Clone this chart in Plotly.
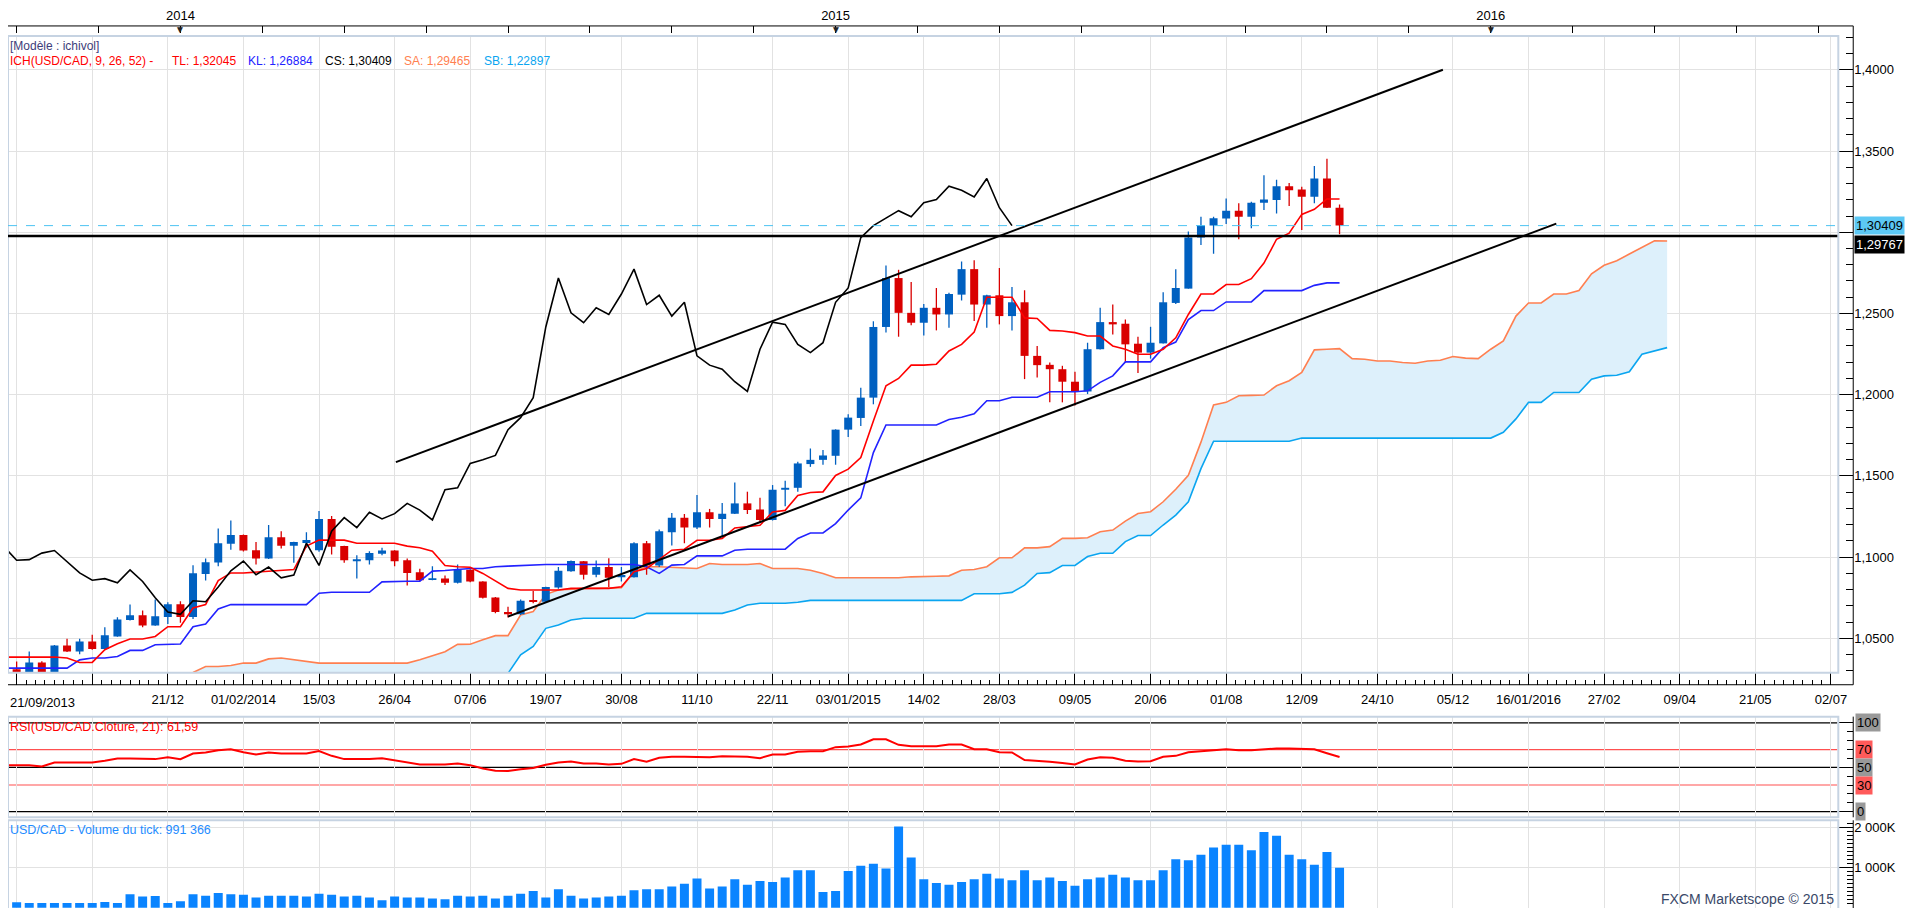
import pandas as pd
import plotly.graph_objects as go

# USD/CAD weekly candles, week of 21/09/2013 -> week of 03/10/2015
open_ = [1.0317, 1.0310, 1.0292, 1.0352, 1.0292, 1.0457, 1.0420, 1.0481, 1.0434, 1.0512,
         1.0613, 1.0642, 1.0580, 1.0632, 1.0710, 1.0632, 1.0897, 1.0967, 1.1082, 1.1136,
         1.1043, 1.0992, 1.1123, 1.1070, 1.1088, 1.1043, 1.1235, 1.1068, 1.0978, 1.0981,
         1.1021, 1.1041, 1.0981, 1.0907, 1.0862, 1.0868, 1.0842, 1.0922, 1.0850, 1.0752,
         1.0663, 1.0648, 1.0735, 1.0726, 1.0814, 1.0914, 1.0975, 1.0892, 1.0939, 1.0877,
         1.0877, 1.1086, 1.0949, 1.1153, 1.1243, 1.1182, 1.1276, 1.1235, 1.1268, 1.1331,
         1.1294, 1.1229, 1.1415, 1.1427, 1.1573, 1.1599, 1.1624, 1.1785, 1.1857, 1.1982,
         1.2417, 1.2718, 1.2504, 1.2443, 1.2535, 1.2494, 1.2616, 1.2773, 1.2555, 1.2612,
         1.2484, 1.2569, 1.2239, 1.2184, 1.2157, 1.2080, 1.2020, 1.2280, 1.2447, 1.2437,
         1.2314, 1.2259, 1.2316, 1.2565, 1.2653, 1.2967, 1.3041, 1.3084, 1.3133, 1.3096,
         1.3182, 1.3198, 1.3284, 1.3263, 1.3218, 1.3331, 1.3151]
high = [1.0342, 1.0358, 1.0420, 1.0360, 1.0460, 1.0498, 1.0498, 1.0523, 1.0568, 1.0630,
        1.0708, 1.0671, 1.0739, 1.0722, 1.0728, 1.0951, 1.0992, 1.1177, 1.1226, 1.1140,
        1.1093, 1.1198, 1.1160, 1.1095, 1.1154, 1.1284, 1.1253, 1.1070, 1.1012, 1.1037,
        1.1058, 1.1043, 1.0992, 1.0928, 1.0944, 1.0887, 1.0955, 1.0925, 1.0852, 1.0755,
        1.0695, 1.0740, 1.0791, 1.0818, 1.0939, 1.0980, 1.0977, 1.0980, 1.0994, 1.0939,
        1.1092, 1.1100, 1.1170, 1.1272, 1.1266, 1.1382, 1.1297, 1.1333, 1.1460, 1.1403,
        1.1366, 1.1444, 1.1470, 1.1587, 1.1669, 1.1660, 1.1787, 1.1879, 1.2043, 1.2452,
        1.2796, 1.2769, 1.2694, 1.2559, 1.2657, 1.2627, 1.2820, 1.2827, 1.2616, 1.2780,
        1.2663, 1.2643, 1.2300, 1.2198, 1.2178, 1.2141, 1.2320, 1.2535, 1.2555, 1.2463,
        1.2357, 1.2418, 1.2631, 1.2773, 1.3004, 1.3096, 1.3096, 1.3208, 1.3178, 1.3188,
        1.3351, 1.3324, 1.3304, 1.3280, 1.3408, 1.3453, 1.3171]
low = [1.0270, 1.0275, 1.0275, 1.0275, 1.0280, 1.0416, 1.0403, 1.0430, 1.0430, 1.0510,
       1.0610, 1.0568, 1.0578, 1.0588, 1.0597, 1.0619, 1.0856, 1.0944, 1.1045, 1.1035,
       1.0955, 1.0988, 1.1053, 1.0965, 1.1058, 1.1033, 1.1016, 1.0965, 1.0868, 1.0955,
       1.1012, 1.0944, 1.0825, 1.0852, 1.0858, 1.0829, 1.0838, 1.0845, 1.0745, 1.0655,
       1.0628, 1.0644, 1.0716, 1.0722, 1.0806, 1.0910, 1.0863, 1.0877, 1.0816, 1.0850,
       1.0875, 1.0892, 1.0939, 1.1072, 1.1086, 1.1174, 1.1182, 1.1123, 1.1266, 1.1266,
       1.1215, 1.1225, 1.1313, 1.1403, 1.1556, 1.1569, 1.1569, 1.1740, 1.1808, 1.1941,
       1.2383, 1.2357, 1.2427, 1.2365, 1.2396, 1.2412, 1.2580, 1.2453, 1.2412, 1.2433,
       1.2396, 1.2096, 1.2106, 1.1953, 1.1953, 1.1933, 1.2004, 1.2278, 1.2371, 1.2198,
       1.2133, 1.2222, 1.2316, 1.2559, 1.2653, 1.2922, 1.2867, 1.3051, 1.2957, 1.3024,
       1.3137, 1.3116, 1.3161, 1.3014, 1.3178, 1.3149, 1.2988]
close = [1.0300, 1.0292, 1.0352, 1.0292, 1.0457, 1.0420, 1.0481, 1.0434, 1.0519, 1.0617,
         1.0642, 1.0580, 1.0636, 1.0710, 1.0632, 1.0901, 1.0969, 1.1086, 1.1136, 1.1041,
         1.0992, 1.1123, 1.1070, 1.1093, 1.1105, 1.1235, 1.1064, 1.0981, 1.0985, 1.1025,
         1.1041, 1.0975, 1.0903, 1.0858, 1.0868, 1.0842, 1.0922, 1.0850, 1.0750, 1.0663,
         1.0648, 1.0732, 1.0726, 1.0816, 1.0916, 1.0976, 1.0892, 1.0939, 1.0873, 1.0890,
         1.1086, 1.0949, 1.1160, 1.1243, 1.1182, 1.1276, 1.1235, 1.1268, 1.1331, 1.1290,
         1.1229, 1.1415, 1.1427, 1.1577, 1.1599, 1.1626, 1.1785, 1.1859, 1.1982, 1.2417,
         1.2718, 1.2504, 1.2443, 1.2535, 1.2494, 1.2620, 1.2773, 1.2555, 1.2612, 1.2484,
         1.2569, 1.2239, 1.2182, 1.2157, 1.2080, 1.2020, 1.2280, 1.2447, 1.2433, 1.2310,
         1.2259, 1.2320, 1.2569, 1.2657, 1.2967, 1.3041, 1.3086, 1.3133, 1.3096, 1.3182,
         1.3202, 1.3284, 1.3259, 1.3218, 1.3331, 1.3151, 1.30409]

# Ichimoku (9, 26, 52)
tenkan = [1.0385, 1.0385, 1.0385, 1.0385, 1.0385, 1.0379, 1.0352, 1.0352, 1.0430, 1.0467,
          1.0496, 1.0496, 1.0512, 1.0572, 1.0572, 1.0687, 1.0708, 1.0856, 1.0903, 1.0903,
          1.0909, 1.0914, 1.0918, 1.0924, 1.1068, 1.1105, 1.1105, 1.1105, 1.1086, 1.1086,
          1.1086, 1.1086, 1.1068, 1.1058, 1.1037, 1.0949, 1.0941, 1.0938, 1.0900, 1.0853,
          1.0808, 1.0798, 1.0798, 1.0798, 1.0798, 1.0808, 1.0808, 1.0808, 1.0808, 1.0818,
          1.0910, 1.0930, 1.0988, 1.1043, 1.1049, 1.1104, 1.1104, 1.1115, 1.1180, 1.1186,
          1.1196, 1.1278, 1.1288, 1.1380, 1.1398, 1.1402, 1.1503, 1.1542, 1.1613, 1.1838,
          1.2055, 1.2100, 1.2182, 1.2182, 1.2188, 1.2269, 1.2310, 1.2386, 1.2600, 1.2600,
          1.2600, 1.2473, 1.2469, 1.2396, 1.2392, 1.2382, 1.2361, 1.2361, 1.2300, 1.2280,
          1.2249, 1.2249, 1.2280, 1.2350, 1.2494, 1.2620, 1.2620, 1.2678, 1.2678, 1.2714,
          1.2810, 1.2957, 1.2994, 1.3110, 1.3141, 1.3205, 1.32045]
kijun = [1.0317, 1.0317, 1.0317, 1.0317, 1.0317, 1.0317, 1.0368, 1.0379, 1.0379, 1.0389,
         1.0426, 1.0426, 1.0461, 1.0465, 1.0465, 1.0572, 1.0588, 1.0681, 1.0708, 1.0708,
         1.0708, 1.0708, 1.0708, 1.0708, 1.0708, 1.0778, 1.0784, 1.0784, 1.0784, 1.0784,
         1.0848, 1.0852, 1.0852, 1.0852, 1.0914, 1.0918, 1.0926, 1.0930, 1.0930, 1.0941,
         1.0945, 1.0949, 1.0955, 1.0955, 1.0955, 1.0955, 1.0955, 1.0955, 1.0955, 1.0955,
         1.0955, 1.0941, 1.0900, 1.0951, 1.0955, 1.1008, 1.1008, 1.1008, 1.1043, 1.1049,
         1.1049, 1.1049, 1.1049, 1.1115, 1.1149, 1.1149, 1.1207, 1.1290, 1.1365, 1.1644,
         1.1814, 1.1814, 1.1814, 1.1814, 1.1814, 1.1847, 1.1861, 1.1882, 1.1963, 1.1963,
         1.1984, 1.1984, 1.1984, 1.2018, 1.2018, 1.2018, 1.2024, 1.2076, 1.2116, 1.2202,
         1.2202, 1.2202, 1.2290, 1.2324, 1.2463, 1.2518, 1.2518, 1.2571, 1.2571, 1.2571,
         1.2641, 1.2641, 1.2641, 1.2641, 1.2673, 1.26884, 1.26884]
# senkou spans, plotted from week 11 to week 132 (already shifted 26 weeks ahead)
cloud_start = 11
senkou_a = [1.0262, 1.0278, 1.0282, 1.0284, 1.0290, 1.0327, 1.0327, 1.0333, 1.0348, 1.0348,
            1.0374, 1.0379, 1.0368, 1.0358, 1.0348, 1.0348, 1.0348, 1.0348, 1.0348, 1.0348,
            1.0348, 1.0348, 1.0368, 1.0395, 1.0418, 1.0463, 1.0464, 1.0491, 1.0517, 1.0517,
            1.0644, 1.0665, 1.0771, 1.0798, 1.0804, 1.0808, 1.0808, 1.0812, 1.0812, 1.0910,
            1.0941, 1.0941, 1.0937, 1.0930, 1.0930, 1.0961, 1.0955, 1.0955, 1.0955, 1.0961,
            1.0930, 1.0930, 1.0930, 1.0920, 1.0900, 1.0873, 1.0873, 1.0873, 1.0873, 1.0873,
            1.0873, 1.0879, 1.0883, 1.0883, 1.0885, 1.0920, 1.0924, 1.0941, 1.0996, 1.0996,
            1.1057, 1.1057, 1.1065, 1.1116, 1.1116, 1.1120, 1.1157, 1.1167, 1.1222, 1.1269,
            1.1280, 1.1341, 1.1418, 1.1504, 1.1708, 1.1937, 1.1953, 1.1994, 1.1996, 1.1998,
            1.2055, 1.2086, 1.2137, 1.2276, 1.2280, 1.2284, 1.2222, 1.2218, 1.2208, 1.2208,
            1.2198, 1.2194, 1.2208, 1.2212, 1.2235, 1.2225, 1.2222, 1.2280, 1.2331, 1.2484,
            1.2565, 1.2565, 1.2620, 1.2620, 1.2641, 1.2744, 1.2797, 1.2825, 1.2866, 1.2905,
            1.2947, 1.29465]
senkou_b = [1.0150, 1.0150, 1.0150, 1.0150, 1.0150, 1.0150, 1.0150, 1.0150, 1.0150, 1.0150,
            1.0150, 1.0150, 1.0150, 1.0150, 1.0150, 1.0150, 1.0150, 1.0150, 1.0150, 1.0150,
            1.0150, 1.0150, 1.0150, 1.0150, 1.0150, 1.0150, 1.0150, 1.0150, 1.0200, 1.0285,
            1.0399, 1.0450, 1.0562, 1.0583, 1.0613, 1.0624, 1.0624, 1.0624, 1.0624, 1.0624,
            1.0654, 1.0654, 1.0654, 1.0654, 1.0654, 1.0654, 1.0654, 1.0675, 1.0706, 1.0716,
            1.0716, 1.0716, 1.0722, 1.0734, 1.0734, 1.0734, 1.0734, 1.0734, 1.0734, 1.0734,
            1.0734, 1.0734, 1.0734, 1.0734, 1.0734, 1.0734, 1.0775, 1.0775, 1.0775, 1.0783,
            1.0828, 1.0900, 1.0905, 1.0949, 1.0949, 1.1004, 1.1024, 1.1024, 1.1096, 1.1133,
            1.1133, 1.1198, 1.1259, 1.1341, 1.1545, 1.1714, 1.1714, 1.1714, 1.1714, 1.1714,
            1.1714, 1.1714, 1.1733, 1.1733, 1.1733, 1.1733, 1.1733, 1.1733, 1.1733, 1.1733,
            1.1733, 1.1733, 1.1733, 1.1733, 1.1733, 1.1733, 1.1733, 1.1733, 1.1769, 1.1851,
            1.1953, 1.1953, 1.2014, 1.2014, 1.2014, 1.2096, 1.2116, 1.2120, 1.2141, 1.2249,
            1.2269, 1.22897]

rsi = [52.4, 52.4, 52.4, 50.9, 55.4, 55.4, 55.4, 55.4, 57.3, 59.9,
       59.9, 59.2, 59.2, 61.4, 59.2, 65.5, 66.7, 69.3, 70.4, 67.0,
       64.4, 66.7, 65.5, 65.5, 65.5, 68.2, 62.9, 59.2, 59.2, 59.2,
       60.3, 57.7, 55.4, 53.2, 53.2, 53.2, 54.3, 52.4, 48.7, 46.1,
       45.7, 47.9, 49.1, 52.8, 55.4, 56.6, 54.3, 54.3, 53.2, 53.9,
       59.2, 56.2, 60.7, 61.8, 61.8, 61.6, 61.4, 62.5, 62.5, 61.8,
       60.3, 64.4, 64.4, 67.4, 68.2, 68.2, 72.7, 73.4, 75.7, 81.6,
       81.6, 75.3, 73.8, 73.8, 73.8, 75.7, 75.7, 70.4, 70.4, 67.0,
       66.7, 58.1, 57.3, 56.2, 54.7, 53.2, 58.8, 61.4, 60.7, 57.3,
       56.6, 56.9, 61.8, 62.9, 67.0, 68.5, 69.3, 70.4, 69.3, 69.3,
       70.4, 71.2, 71.2, 70.4, 70.4, 65.9, 61.59]
volume = [135000, 135000, 120000, 120000, 120000, 120000, 120000, 120000, 143000, 120000,
          338000, 278000, 293000, 120000, 165000, 338000, 300000, 368000, 338000, 323000,
          256000, 300000, 300000, 300000, 278000, 346000, 323000, 278000, 300000, 256000,
          188000, 278000, 256000, 256000, 233000, 210000, 300000, 278000, 300000, 233000,
          300000, 346000, 414000, 256000, 459000, 300000, 233000, 256000, 278000, 300000,
          436000, 459000, 459000, 526000, 594000, 729000, 481000, 526000, 707000, 571000,
          662000, 639000, 752000, 932000, 932000, 391000, 414000, 910000, 1045000, 1090000,
          977000, 2015000, 1248000, 707000, 617000, 571000, 639000, 707000, 842000, 729000,
          684000, 932000, 684000, 752000, 662000, 549000, 707000, 752000, 820000, 752000,
          684000, 684000, 932000, 1203000, 1180000, 1316000, 1496000, 1564000, 1564000, 1429000,
          1880000, 1789000, 1316000, 1203000, 1068000, 1383000, 991366]

# drawn channel and support level
trend_up_x = ["2014-04-26 17:00", "2015-11-29 10:00"]
trend_up_y = [1.1585, 1.4000]
trend_lo_x = ["2014-06-28 00:00", "2016-01-31 10:00"]
trend_lo_y = [1.0634, 1.3053]
support_level = 1.29767

price_ticks = [1.05, 1.10, 1.15, 1.20, 1.25, 1.30, 1.35, 1.40]
price_text = ["1,0500", "1,1000", "1,1500", "1,2000", "1,2500", "1,3000", "1,3500", "1,4000"]
date_labels = ["", "", "21/12", "01/02/2014", "15/03", "26/04", "07/06", "19/07", "30/08",
               "11/10", "22/11", "03/01/2015", "14/02", "28/03", "09/05", "20/06", "01/08",
               "12/09", "24/10", "05/12", "16/01/2016", "27/02", "09/04", "21/05", "02/07"]
first_date_label = "21/09/2013"
vol_ticks = [0, 1000000, 2000000]
vol_text = ["0", "1 000K", "2 000K"]
rsi_levels = [100, 70, 50, 30, 0]

# ---------------------------------------------------------------
# the page puts the figure 8px in from the window edge, so the
# screen positions below are measured on the window and shifted
OFF = 8
W, H = 1919 - 2 * OFF, 916 - 2 * OFF
def px(x):
    return (x - OFF) / W
def py(y):
    return 1 - (y - OFF) / H

FONT = "Liberation Sans, Arial, sans-serif"
UP, DOWN = "#0060C0", "#D90000"
GRID = "#E2E2E2"
FRAME = "#C6D3E2"

n = len(close)
t0 = pd.Timestamp("2013-09-21")
weeks = [t0 + pd.Timedelta(weeks=i) for i in range(n + 26)]
xrange_ = [t0 + pd.Timedelta(days=2.2), t0 + pd.Timedelta(days=1019.1)]
grid_dates = [t0 + pd.Timedelta(weeks=k) for k in range(1, 146, 6)]
top_ticks = [t0 + pd.Timedelta(weeks=14 + 6.5 * k) for k in range(-2, 21)]
year_weeks = [w for w in weeks if (w + pd.Timedelta(days=6)).year != w.year]
top_text = []
for t in top_ticks:
    hit = [w for w in year_weeks if abs((w - t).days) < 1]
    top_text.append(str((hit[0] + pd.Timedelta(days=6)).year) if hit else "")

# axis labels that sit under the last-price / support boxes are covered, as on screen
price_shown = ["" if min(abs(t - close[-1]), abs(t - support_level)) < 0.01 else s
               for t, s in zip(price_ticks, price_text)]


def fmt(v, d=5):
    return f"{v:.{d}f}".replace(".", ",")


def segs(idx, a, b, min_h=0.0):
    xs, ys = [], []
    for i in idx:
        lo_, hi_ = min(a[i], b[i]), max(a[i], b[i])
        if hi_ - lo_ < min_h:
            mid = (lo_ + hi_) / 2
            lo_, hi_ = mid - min_h / 2, mid + min_h / 2
        xs += [weeks[i], weeks[i], None]
        ys += [lo_, hi_, None]
    return xs, ys


up_idx = [i for i in range(n) if close[i] >= open_[i]]
dn_idx = [i for i in range(n) if close[i] < open_[i]]

fig = go.Figure()

# cloud
cx = weeks[cloud_start:cloud_start + len(senkou_a)]
fig.add_trace(go.Scatter(x=cx, y=senkou_b, mode="lines", line=dict(color="#0AA5F0", width=1.6),
                         hoverinfo="skip"))
fig.add_trace(go.Scatter(x=cx, y=senkou_a, mode="lines", line=dict(color="#FF7F50", width=1.6),
                         fill="tonexty", fillcolor="#DDF0FB", hoverinfo="skip"))

# candles
for idx, col in [(up_idx, UP), (dn_idx, DOWN)]:
    wx, wy = segs(idx, low, high)
    fig.add_trace(go.Scatter(x=wx, y=wy, mode="lines", line=dict(color=col, width=1.3),
                             hoverinfo="skip"))
    bx, by = segs(idx, open_, close, min_h=0.0012)
    fig.add_trace(go.Scatter(x=bx, y=by, mode="lines", line=dict(color=col, width=8),
                             hoverinfo="skip"))

fig.add_trace(go.Scatter(x=weeks[:n], y=kijun, mode="lines", line=dict(color="#2222FF", width=1.6),
                         hoverinfo="skip"))
fig.add_trace(go.Scatter(x=weeks[:n], y=tenkan, mode="lines", line=dict(color="#FF0000", width=1.6),
                         hoverinfo="skip"))
fig.add_trace(go.Scatter(x=weeks[:n - 26], y=close[26:], mode="lines",
                         line=dict(color="black", width=1.6), hoverinfo="skip"))
fig.add_trace(go.Scatter(x=trend_up_x, y=trend_up_y, mode="lines", line=dict(color="black", width=2),
                         hoverinfo="skip"))
fig.add_trace(go.Scatter(x=trend_lo_x, y=trend_lo_y, mode="lines", line=dict(color="black", width=2),
                         hoverinfo="skip"))

# RSI
fig.add_trace(go.Scatter(x=weeks[:n], y=rsi, mode="lines", line=dict(color="#FF0000", width=2),
                         xaxis="x2", yaxis="y2", hoverinfo="skip"))
# tick volume
fig.add_trace(go.Bar(x=weeks[:n], y=volume, marker=dict(color="#0A84FF", line=dict(width=0)),
                     width=5 * 86400000, xaxis="x3", yaxis="y3", hoverinfo="skip"))
# carriers for the date strip and the year strip
fig.add_trace(go.Scatter(x=[weeks[5]], y=[0.5], mode="markers", marker=dict(opacity=0),
                         xaxis="x4", yaxis="y4", hoverinfo="skip"))
fig.add_trace(go.Scatter(x=[weeks[5]], y=[0.5], mode="markers", marker=dict(opacity=0),
                         xaxis="x5", yaxis="y5", hoverinfo="skip"))

XD = px(1847)
AX = px(1862)
xbase = dict(range=xrange_, domain=[0, XD], type="date", tickmode="array", tickvals=grid_dates,
             showgrid=True, gridcolor=GRID, gridwidth=1, showticklabels=False, ticks="",
             zeroline=False, showline=False, fixedrange=True)
yside = dict(side="right", anchor="free", position=AX, ticks="inside", tickcolor="black",
             tickwidth=1, zeroline=False, showline=False, fixedrange=True)

fig.update_layout(
    xaxis=dict(**xbase, anchor="y", rangeslider=dict(visible=False)),
    xaxis2=dict(**xbase, anchor="y2", matches="x"),
    xaxis3=dict(**xbase, anchor="y3", matches="x"),
    xaxis4=dict(range=xrange_, domain=[0, XD], type="date", anchor="y4", matches="x",
                tickmode="array", tickvals=grid_dates, ticktext=date_labels, ticks="inside",
                ticklen=12, tickcolor="black", showgrid=False, zeroline=False, showline=False,
                ticklabelstandoff=5, tickfont=dict(size=13, color="black"),
                minor=dict(tickmode="linear", tick0=grid_dates[0], dtick=6 * 7 * 86400000 / 8,
                           ticks="inside", ticklen=5, tickcolor="black", showgrid=False)),
    xaxis5=dict(range=xrange_, domain=[0, XD], type="date", anchor="y5", matches="x", side="top",
                tickmode="array", tickvals=top_ticks, ticktext=top_text, ticks="inside",
                ticklen=7, tickcolor="black", showgrid=False, zeroline=False, showline=False,
                ticklabelstandoff=2, tickfont=dict(size=13, color="black")),
    yaxis=dict(**yside, domain=[py(672), py(33)], range=[1.02883, 1.42086], tickmode="array",
               tickvals=price_ticks, ticktext=price_shown, ticklen=15, showgrid=True,
               gridcolor=GRID, tickfont=dict(size=13, color="black"),
               minor=dict(tickmode="linear", tick0=1.0, dtick=0.01, ticks="inside", ticklen=7,
                          tickcolor="black", showgrid=False)),
    yaxis2=dict(**yside, domain=[py(817), py(716)], range=[-6.4, 107.1], tickmode="array",
                tickvals=[0, 50, 100], ticklen=14, showticklabels=False, showgrid=False,
                minor=dict(tickmode="linear", tick0=0, dtick=10, ticks="inside", ticklen=6,
                           tickcolor="black", showgrid=False)),
    yaxis3=dict(**yside, domain=[0, py(820)], range=[-5000, 2170000], tickmode="array",
                tickvals=vol_ticks, ticktext=vol_text, ticklen=14, showgrid=True, gridcolor=GRID,
                tickfont=dict(size=13, color="black"),
                minor=dict(tickmode="linear", tick0=0, dtick=100000, ticks="inside", ticklen=6,
                           tickcolor="black", showgrid=False)),
    yaxis4=dict(domain=[py(684), py(672)], range=[0, 1], visible=False, fixedrange=True),
    yaxis5=dict(domain=[py(33), py(23)], range=[0, 1], visible=False, fixedrange=True),
    plot_bgcolor="white",
    paper_bgcolor="white",
    margin=dict(l=0, r=0, t=0, b=0),
    showlegend=False,
    hovermode=False,
    font=dict(family=FONT, size=13, color="black"),
)

shapes = []
# panel frames
for y0, y1 in [(33, 672), (716, 817), (820, 909)]:
    shapes.append(dict(type="rect", xref="paper", yref="paper", x0=0, x1=px(1847), y0=py(y1), y1=py(y0),
                       line=dict(color=FRAME, width=2), layer="above"))
# axis lines
for x0, y0, x1, y1 in [(8, 23, 1862, 23), (1862, 23, 1862, 684), (8, 684, 1862, 684),
                       (1862, 716, 1862, 817), (1862, 820, 1862, 908)]:
    shapes.append(dict(type="line", xref="paper", yref="paper", x0=px(x0), x1=px(x1), y0=py(y0), y1=py(y1),
                       line=dict(color="black", width=1), layer="above"))
# last price and support level
shapes.append(dict(type="line", xref="paper", yref="y", x0=0, x1=px(1846), y0=close[-1], y1=close[-1],
                   line=dict(color="#4CC3F2", width=1, dash="dash"), layer="above"))
shapes.append(dict(type="line", xref="paper", yref="y", x0=0, x1=px(1846), y0=support_level,
                   y1=support_level, line=dict(color="black", width=2.5), layer="above"))
# RSI levels
for lv in rsi_levels:
    col = "#FF5050" if lv in (30, 70) else "black"
    shapes.append(dict(type="line", xref="paper", yref="y2", x0=0, x1=px(1846), y0=lv, y1=lv,
                       line=dict(color=col, width=1.2), layer="between"))
fig.update_layout(shapes=shapes)

ann = []
def text(x, y, s, color="black", size=12, xanchor="left", **kw):
    ann.append(dict(x=px(x), y=py(y), xref="paper", yref="paper", text=s, showarrow=False,
                    xanchor=xanchor, yanchor="middle", font=dict(family=FONT, size=size, color=color), **kw))

text(8, 43, "[Modèle : ichivol]", color="#3D3D7A")
text(8, 58, "ICH(USD/CAD, 9, 26, 52) -", color="#FF0000")
text(171, 58, "TL: " + fmt(tenkan[-1]), color="#FF0000")
text(247, 58, "KL: " + fmt(kijun[-1]), color="#2222FF")
text(324, 58, "CS: " + fmt(close[-1]), color="black")
text(404, 58, "SA: " + fmt(senkou_a[-1]), color="#FF7F50")
text(484, 58, "SB: " + fmt(senkou_b[-1]), color="#0AA5F0")
text(8, 726, f"RSI(USD/CAD.Cloture, 21): {fmt(rsi[-1], 2)}", color="#FF0000", size=12.5)
text(8, 830, "USD/CAD - Volume du tick: " + f"{int(volume[-1]):,}".replace(",", " "),
     color="#1E8CFF", size=12.5)
text(1845, 899, "FXCM Marketscope © 2015", color="#3A4868", size=14, xanchor="right")
text(8, 702, first_date_label, size=13)

# price boxes on the right axis
ann.append(dict(x=px(1863), y=support_level, xref="paper", yref="y", yshift=-8, text=fmt(support_level),
                showarrow=False, xanchor="left", yanchor="middle", bgcolor="black", borderpad=1,
                font=dict(family=FONT, size=13, color="white")))
ann.append(dict(x=px(1863), y=close[-1], xref="paper", yref="y", text=fmt(close[-1]),
                showarrow=False, xanchor="left", yanchor="middle", bgcolor="#5CC8F4", borderpad=1,
                font=dict(family=FONT, size=13, color="black")))
# RSI level boxes
for lv in rsi_levels:
    bg = "#FF5A5A" if lv in (30, 70) else "#999999"
    ann.append(dict(x=px(1864), y=lv, xref="paper", yref="y2", text=str(lv), showarrow=False,
                    xanchor="left", yanchor="middle", bgcolor=bg, borderpad=1,
                    font=dict(family=FONT, size=13, color="black")))
# year markers on the top axis
for w in year_weeks:
    ann.append(dict(x=w, y=py(27), xref="x", yref="paper", text="▼", showarrow=False,
                    xanchor="center", yanchor="middle", font=dict(family=FONT, size=10, color="#222222")))
fig.update_layout(annotations=ann)

fig.write_html("out.html")
